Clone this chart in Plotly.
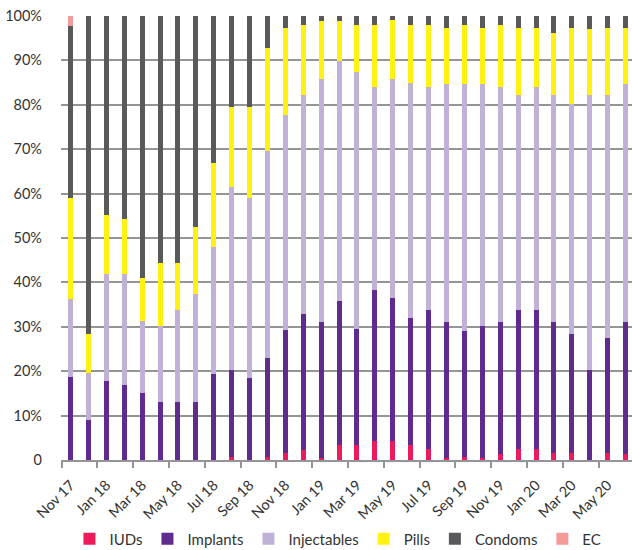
import plotly.graph_objects as go

months = ["Nov 17", "Dec 17", "Jan 18", "Feb 18", "Mar 18", "Apr 18", "May 18", "Jun 18",
          "Jul 18", "Aug 18", "Sep 18", "Oct 18", "Nov 18", "Dec 18", "Jan 19", "Feb 19",
          "Mar 19", "Apr 19", "May 19", "Jun 19", "Jul 19", "Aug 19", "Sep 19", "Oct 19",
          "Nov 19", "Dec 19", "Jan 20", "Feb 20", "Mar 20", "Apr 20", "May 20", "Jun 20"]

iuds = [0, 0, 0, 0, 0, 0, 0, 0,
        0, 0.7, 0, 0.7, 1.6, 2.3, 0.5, 3.4,
        3.4, 4.3, 4.3, 3.4, 2.5, 0.5, 0.7, 0.5,
        1.4, 2.5, 2.5, 1.6, 1.6, 0, 1.6, 1.4]
implants = [18.6, 8.9, 17.9, 17.0, 15.0, 13.1, 13.1, 13.1,
            19.4, 19.6, 18.5, 22.3, 27.7, 30.6, 30.6, 32.3,
            26.2, 34.1, 32.3, 28.6, 31.3, 30.6, 28.4, 29.7,
            29.7, 31.3, 31.3, 29.5, 26.8, 20.3, 25.9, 29.7]
injectables = [17.7, 10.6, 23.9, 24.8, 16.2, 17.1, 20.7, 24.4,
               28.6, 41.3, 40.4, 46.5, 48.3, 49.2, 54.6, 54.2,
               57.9, 45.5, 49.1, 52.8, 50.1, 53.6, 55.6, 54.5,
               52.8, 48.3, 50.1, 51.0, 51.8, 61.8, 54.6, 53.6]
pills = [22.6, 8.9, 13.4, 12.5, 9.8, 14.2, 10.6, 15.0,
         19.0, 17.8, 20.5, 23.4, 19.8, 15.9, 13.2, 9.0,
         10.5, 14.1, 13.5, 13.2, 14.1, 12.7, 13.3, 12.7,
         14.1, 15.3, 13.5, 14.1, 17.2, 15.0, 15.3, 12.7]
condoms = [38.9, 71.6, 44.8, 45.7, 59.0, 55.6, 55.6, 47.5,
           33.0, 20.6, 20.6, 7.1, 2.6, 2.0, 1.1, 1.1,
           2.0, 2.0, 0.8, 2.0, 2.0, 2.6, 2.0, 2.6,
           2.0, 2.6, 2.6, 3.8, 2.6, 2.9, 2.6, 2.6]
ec = [2.2, 0, 0, 0, 0, 0, 0, 0,
      0, 0, 0, 0, 0, 0, 0, 0,
      0, 0, 0, 0, 0, 0, 0, 0,
      0, 0, 0, 0, 0, 0, 0, 0]

series = [("IUDs", iuds, "#EE1B5C"),
          ("Implants", implants, "#5F2B8E"),
          ("Injectables", injectables, "#BFB2D6"),
          ("Pills", pills, "#FFF212"),
          ("Condoms", condoms, "#58595B"),
          ("EC", ec, "#F59A9B")]

y_tickvals = [0, 10, 20, 30, 40, 50, 60, 70, 80, 90, 100]
y_ticktext = ["0", "10%", "20%", "30%", "40%", "50%", "60%", "70%", "80%", "90%", "100%"]

FONT = "Lato"
TXT = "#333333"
GRID = "#959595"

fig = go.Figure()
for name, vals, col in series:
    fig.add_trace(go.Bar(x=months, y=vals, name=name,
                         marker=dict(color=col, line=dict(width=0))))

fig.update_layout(
    barmode="stack",
    bargap=0.72,
    width=632, height=550,
    margin=dict(l=61, r=0, t=16, b=90, autoexpand=False),
    paper_bgcolor="white", plot_bgcolor="white",
    font=dict(family=FONT, size=14, color=TXT),
    legend=dict(orientation="h", x=0.485, xanchor="center", y=-0.178, yanchor="middle",
                font=dict(size=15, color=TXT), itemwidth=30, traceorder="normal"),
    showlegend=True,
)
fig.update_xaxes(
    type="category",
    automargin=False,
    range=[-0.53, 31.36],
    tickangle=-45,
    dtick=2,
    tickson="boundaries",
    ticks="outside", ticklen=6, tickwidth=2, tickcolor=GRID,
    ticklabelstandoff=9,
    showline=True, linecolor=GRID, linewidth=2,
    showgrid=False,
    tickfont=dict(size=14.5, color=TXT),
)
fig.update_yaxes(
    automargin=False,
    range=[0, 100],
    tickvals=y_tickvals, ticktext=y_ticktext,
    showgrid=True, gridcolor=GRID, gridwidth=2,
    zeroline=False,
    ticks="", ticklabelstandoff=18,
    tickfont=dict(size=14.5, color=TXT),
)

fig.write_html("out.html", config={"displayModeBar": False},
               post_script="document.body.style.margin='0px';")
